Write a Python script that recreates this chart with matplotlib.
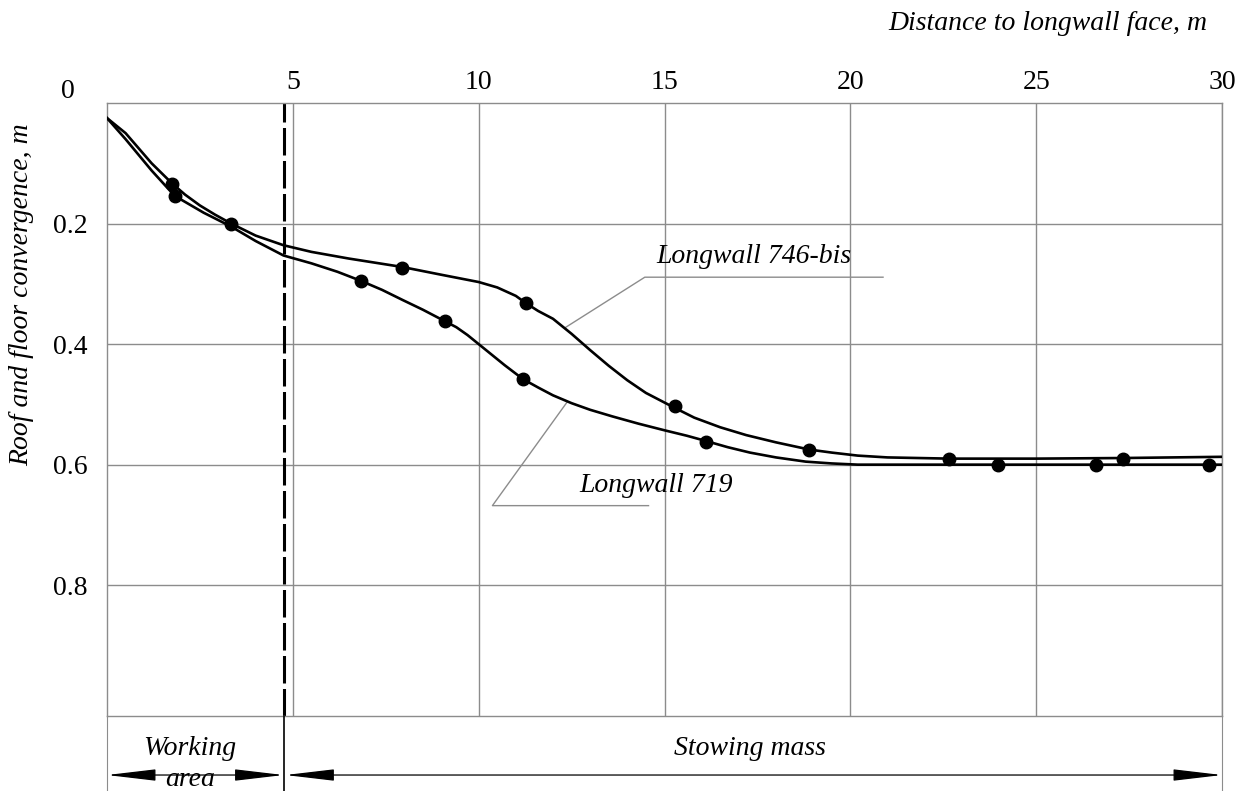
import numpy as np
import matplotlib
matplotlib.use("Agg")
import matplotlib.pyplot as plt

plt.rcParams['font.family'] = ['Liberation Serif', 'DejaVu Serif']

# curves (distance m, convergence m)
lw746_x = [0.0, 0.5, 1.2, 1.76, 2.1, 2.5, 2.9, 3.34, 4.0, 4.75, 5.5, 6.5, 7.94, 9.0, 10.0,
           10.5, 11.0, 11.27, 11.6, 12.0, 12.5, 13.0, 13.5, 14.0, 14.5, 15.25, 15.8, 16.5,
           17.2, 18.0, 18.9, 19.5, 20.2, 21.0, 22.66, 25.0, 27.33, 30.0]
lw746_y = [0.025, 0.05, 0.10, 0.134, 0.152, 0.17, 0.185, 0.20, 0.22, 0.236, 0.247, 0.258,
           0.272, 0.285, 0.297, 0.306, 0.32, 0.332, 0.345, 0.358, 0.383, 0.41, 0.436, 0.46,
           0.481, 0.505, 0.522, 0.538, 0.551, 0.563, 0.575, 0.58, 0.585, 0.588, 0.590, 0.590,
           0.589, 0.587]
lw719_x = [0.0, 0.5, 1.2, 1.82, 2.6, 3.34, 4.0, 4.75, 5.5, 6.2, 6.83, 7.4, 7.96, 8.5, 9.09,
           9.4, 9.7, 10.2, 10.7, 11.19, 11.6, 12.0, 12.5, 13.0, 13.6, 14.3, 15.0, 15.6, 16.13,
           16.7, 17.3, 18.0, 18.8, 19.5, 20.2, 22.0, 30.0]
lw719_y = [0.025, 0.06, 0.112, 0.154, 0.182, 0.205, 0.229, 0.253, 0.266, 0.28, 0.295, 0.31,
           0.327, 0.343, 0.362, 0.372, 0.385, 0.41, 0.435, 0.458, 0.472, 0.485, 0.498, 0.509,
           0.52, 0.532, 0.543, 0.552, 0.561, 0.571, 0.58, 0.588, 0.595, 0.598, 0.60, 0.600,
           0.600]

# measured points
pts746_x = [1.76, 3.34, 7.94, 11.27, 15.27, 18.9, 22.66, 27.33]
pts746_y = [0.134, 0.20, 0.274, 0.332, 0.503, 0.575, 0.591, 0.590]
pts719_x = [1.82, 6.83, 9.09, 11.19, 16.13, 23.96, 26.6, 29.66]
pts719_y = [0.154, 0.295, 0.362, 0.458, 0.563, 0.600, 0.600, 0.600]

x_ticks = [5, 10, 15, 20, 25, 30]
y_ticks = [0.2, 0.4, 0.6, 0.8]
face_x = 4.75  # boundary working area / stowing mass

W, H = 1248, 791
fig = plt.figure(figsize=(W / 100, H / 100), dpi=100)
ax = fig.add_axes([107 / W, (H - 716) / H, (1222 - 107) / W, (716 - 103) / H])

grey = '#8c8c8c'
ax.plot(lw746_x, lw746_y, color='black', lw=1.9, zorder=3, solid_joinstyle='round')
ax.plot(lw719_x, lw719_y, color='black', lw=1.9, zorder=3, solid_joinstyle='round')
ax.plot(pts746_x, pts746_y, 'o', color='black', ms=9, zorder=4)
ax.plot(pts719_x, pts719_y, 'o', color='black', ms=9, zorder=4)

ax.axvline(face_x, color='black', lw=2.2, dashes=(9, 1.8), zorder=2)

ax.set_xlim(0, 30)
ax.set_ylim(1.017, 0)
ax.xaxis.tick_top()
ax.set_xticks(x_ticks)
ax.set_yticks(y_ticks)
ax.set_yticklabels([str(v) for v in y_ticks])
ax.tick_params(axis='x', length=0, pad=6, labelsize=20)
ax.tick_params(axis='y', length=0, pad=14, labelsize=20)
ax.grid(True, color=grey, lw=1)
for s in ax.spines.values():
    s.set_color(grey)
    s.set_linewidth(1)
fig.text(68 / W, 1 - 92 / H, '0', fontsize=20, ha='center', va='center')

# curve labels with leader lines
ax.plot([12.32, 14.47, 20.88], [0.373, 0.289, 0.289], color=grey, lw=1, zorder=2)
ax.text(14.77, 0.275, 'Longwall 746-bis', fontsize=20, style='italic', va='bottom')
ax.plot([12.37, 10.37, 14.57], [0.497, 0.668, 0.668], color=grey, lw=1, zorder=2)
ax.text(12.7, 0.655, 'Longwall 719', fontsize=20, style='italic', va='bottom')

fig.text(1207 / W, 1 - 23 / H, 'Distance to longwall face, m', fontsize=20,
         style='italic', ha='right', va='center')
fig.text(22 / W, 1 - 295 / H, 'Roof and floor convergence, m', fontsize=20,
         style='italic', rotation=90, ha='center', va='center')

# zone band below the chart
band = fig.add_axes([107 / W, 0, (1222 - 107) / W, (H - 716) / H])
band.set_xlim(0, 30)
band.set_ylim(0, 1)
band.set_xticks([])
band.set_yticks([])
band.patch.set_alpha(0)
for k in ['top', 'bottom']:
    band.spines[k].set_visible(False)
for k in ['left', 'right']:
    band.spines[k].set_color(grey)
band.axvline(face_x, color='black', lw=1.2)
arrow = dict(arrowstyle='<|-|>,head_length=1.7,head_width=0.2', color='black', lw=0.9,
             shrinkA=0, shrinkB=0, mutation_scale=18)
band.annotate('', xy=(0, 0.213), xytext=(face_x, 0.213), arrowprops=arrow)
band.annotate('', xy=(face_x + 0.05, 0.213), xytext=(30, 0.213), arrowprops=arrow)
band.text(2.23, 0.57, 'Working', fontsize=20, style='italic', ha='center', va='center')
band.text(2.23, 0.15, 'area', fontsize=20, style='italic', ha='center', va='center')
band.text(17.3, 0.57, 'Stowing mass', fontsize=20, style='italic', ha='center', va='center')

fig.savefig('out.png', dpi=100)
